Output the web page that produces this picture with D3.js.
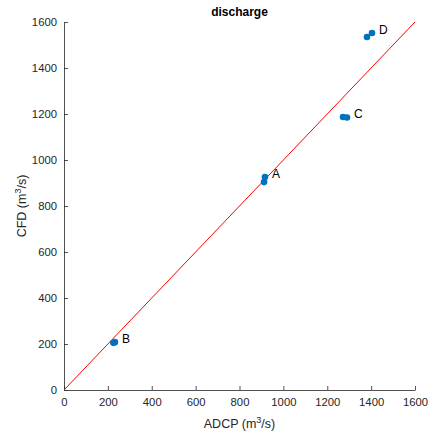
<!DOCTYPE html>
<html>
<head>
<meta charset="utf-8">
<script src="https://cdn.jsdelivr.net/npm/d3@7"></script>
<style>
  html, body { margin: 0; padding: 0; background: #fff; }
  svg text { font-family: "Liberation Sans", Arial, Helvetica, sans-serif; }
</style>
</head>
<body>
<svg id="chart" width="432" height="438"></svg>
<script>
// Discharge comparison: ADCP measurements vs. CFD results
const siteLabels = ["A", "A", "B", "B", "C", "C", "D", "D"];
const adcpValues = [916, 912, 225, 232, 1272, 1290, 1381, 1404];
const cfdValues  = [926, 904, 205, 208, 1187, 1185, 1535, 1552];
const tickValues = [0, 200, 400, 600, 800, 1000, 1200, 1400, 1600];
const labelSites = ["A", "B", "C", "D"];
const axisDomain = [0, 1600];

const svg = d3.select("#chart");
const margin = { left: 64, right: 17, top: 22, bottom: 48 };
const W = 432, H = 438;

const x = d3.scaleLinear().domain(axisDomain).range([margin.left, W - margin.right]);
const y = d3.scaleLinear().domain(axisDomain).range([H - margin.bottom, margin.top]);

const axisColor = "#262626";
const fontSize = 11.3;

// x axis with inward ticks
const xAxis = svg.append("g")
  .attr("transform", `translate(0,${y(0)})`)
  .call(d3.axisBottom(x).tickValues(tickValues).tickFormat(d3.format("d"))
    .tickSizeInner(-4).tickSizeOuter(0).tickPadding(8));
// y axis with inward ticks
const yAxis = svg.append("g")
  .attr("transform", `translate(${x(0)},0)`)
  .call(d3.axisLeft(y).tickValues(tickValues).tickFormat(d3.format("d"))
    .tickSizeInner(-4).tickSizeOuter(0).tickPadding(7));

[xAxis, yAxis].forEach(g => {
  g.select(".domain").attr("stroke", axisColor).attr("stroke-width", 0.8);
  g.selectAll(".tick line").attr("stroke", axisColor).attr("stroke-width", 0.8);
  g.selectAll(".tick text").attr("fill", axisColor).style("font-size", fontSize + "px")
    .style("font-family", "'Liberation Sans', Arial, sans-serif");
});

// 1:1 reference line
svg.append("line")
  .attr("x1", x(axisDomain[0])).attr("y1", y(axisDomain[0]))
  .attr("x2", x(axisDomain[1])).attr("y2", y(axisDomain[1]))
  .attr("stroke", "#ff0000").attr("stroke-width", 1);

// data points
const points = adcpValues.map((v, i) => ({ site: siteLabels[i], adcp: v, cfd: cfdValues[i] }));
svg.append("g").selectAll("circle").data(points).join("circle")
  .attr("cx", d => x(d.adcp)).attr("cy", d => y(d.cfd))
  .attr("r", 3.3).attr("fill", "#0072BD");

// site labels to the right of each point group
const groups = labelSites.map(s => {
  const pts = points.filter(p => p.site === s);
  return { site: s, adcp: d3.max(pts, p => p.adcp), cfd: d3.max(pts, p => p.cfd) };
});
svg.append("g").selectAll("text").data(groups).join("text")
  .attr("x", d => x(d.adcp) + 7)
  .attr("y", d => y(d.cfd) + 1)
  .attr("fill", "#000")
  .style("font-size", "12px")
  .text(d => d.site);

// title
svg.append("text")
  .attr("x", (x(0) + x(1600)) / 2).attr("y", 16)
  .attr("text-anchor", "middle")
  .style("font-size", "12px").style("font-weight", "bold")
  .attr("fill", "#000")
  .text("discharge");

// x axis label
const xl = svg.append("text")
  .attr("x", (x(0) + x(1600)) / 2).attr("y", 428)
  .attr("text-anchor", "middle").attr("fill", axisColor)
  .style("font-size", "12.5px");
xl.append("tspan").text("ADCP (m");
xl.append("tspan").attr("dy", -5).style("font-size", "9px").text("3");
xl.append("tspan").attr("dy", 5).text("/s)");

// y axis label
const yl = svg.append("text")
  .attr("transform", `translate(26,${(y(0) + y(1600)) / 2}) rotate(-90)`)
  .attr("text-anchor", "middle").attr("fill", axisColor)
  .style("font-size", "12.5px");
yl.append("tspan").text("CFD (m");
yl.append("tspan").attr("dy", -5).style("font-size", "9px").text("3");
yl.append("tspan").attr("dy", 5).text("/s)");
</script>
</body>
</html>
